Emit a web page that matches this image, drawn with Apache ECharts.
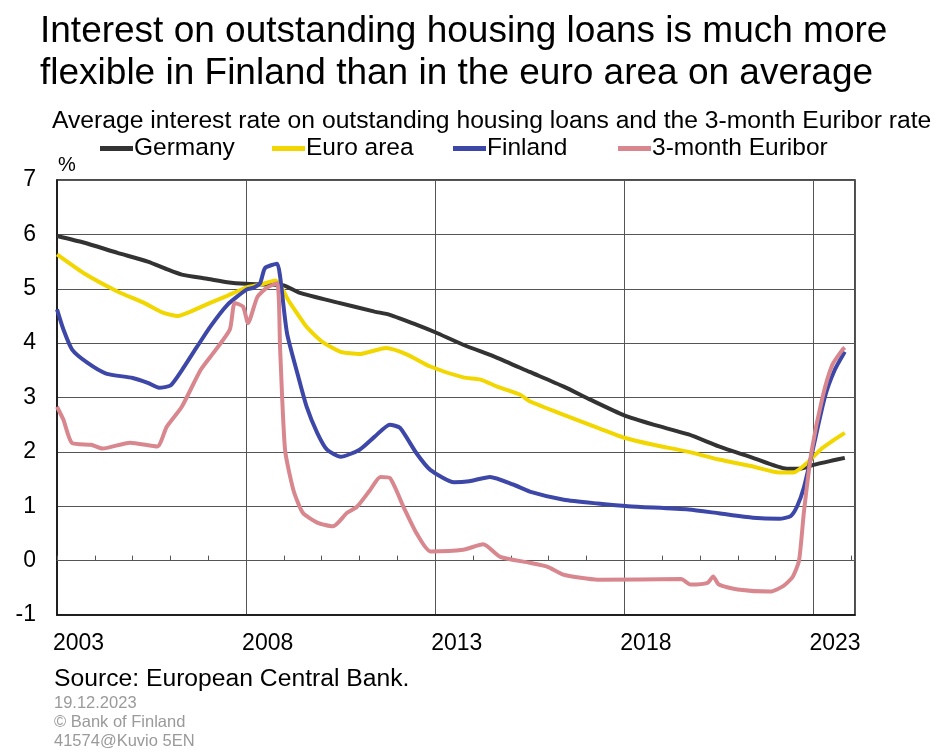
<!DOCTYPE html>
<html>
<head>
<meta charset="utf-8">
<script src="https://cdn.jsdelivr.net/npm/echarts@6/dist/echarts.min.js"></script>
<style>
html,body{margin:0;padding:0;background:#fff;}
#chart{width:935px;height:749px;}
</style>
</head>
<body>
<div id="chart"></div>
<script>
// ---- Data (decimal year, percent) ----
const seriesNames = ['Germany', 'Euro area', 'Finland', '3-month Euribor'];
const xTickYears = [2003, 2008, 2013, 2018, 2023];

const germany = [
  [2003.0,5.97],[2003.7,5.85],[2004.6,5.66],[2005.4,5.5],[2005.9,5.36],[2006.3,5.26],
  [2007.0,5.18],[2007.5,5.12],[2008.0,5.09],[2008.5,5.08],[2009.0,5.06],[2009.4,4.93],
  [2010.4,4.75],[2011.4,4.58],[2011.8,4.52],[2012.5,4.34],[2013.0,4.2],[2013.74,3.97],
  [2014.64,3.73],[2015.5,3.47],[2016.4,3.2],[2017.1,2.96],[2018.0,2.67],[2018.77,2.5],
  [2019.7,2.32],[2020.5,2.1],[2021.4,1.89],[2022.3,1.69],[2022.65,1.69],[2023.0,1.76],
  [2023.5,1.84],[2023.83,1.89]
];
const euroArea = [
  [2003.0,5.63],[2003.7,5.29],[2004.6,4.95],[2005.3,4.74],[2005.8,4.56],[2006.2,4.5],
  [2006.5,4.57],[2007.05,4.74],[2007.5,4.87],[2008.0,5.02],[2008.4,5.08],[2008.77,5.15],
  [2009.16,4.74],[2009.6,4.3],[2010.0,4.03],[2010.5,3.84],[2011.0,3.8],[2011.7,3.91],
  [2012.26,3.79],[2012.87,3.57],[2013.74,3.37],[2014.2,3.33],[2014.64,3.2],[2015.25,3.05],
  [2015.5,2.93],[2016.4,2.68],[2017.3,2.44],[2018.0,2.26],[2018.77,2.13],[2019.7,2.0],
  [2020.5,1.86],[2021.4,1.73],[2022.1,1.62],[2022.47,1.62],[2022.84,1.8],[2023.2,2.05],
  [2023.5,2.2],[2023.83,2.35]
];
const finland = [
  [2003.0,4.62],[2003.17,4.25],[2003.4,3.88],[2003.8,3.64],[2004.3,3.44],[2005.0,3.36],
  [2005.4,3.27],[2005.7,3.18],[2006.0,3.22],[2006.3,3.5],[2006.7,3.93],[2007.05,4.3],
  [2007.5,4.7],[2008.0,4.98],[2008.2,5.02],[2008.37,5.1],[2008.5,5.38],[2008.82,5.46],
  [2008.9,5.22],[2009.08,4.19],[2009.35,3.46],[2009.6,2.83],[2009.88,2.35],[2010.14,2.04],
  [2010.5,1.91],[2011.0,2.04],[2011.4,2.28],[2011.8,2.5],[2012.07,2.44],[2012.5,1.98],
  [2012.87,1.67],[2013.5,1.44],[2013.9,1.46],[2014.45,1.54],[2015.06,1.4],[2015.5,1.27],
  [2016.4,1.12],[2017.3,1.05],[2018.1,1.0],[2019.7,0.94],[2020.5,0.87],[2021.4,0.79],
  [2022.1,0.77],[2022.4,0.82],[2022.57,1.0],[2022.75,1.35],[2022.97,2.0],[2023.3,3.0],
  [2023.56,3.5],[2023.83,3.84]
];
const euribor = [
  [2003.0,2.83],[2003.17,2.59],[2003.4,2.16],[2003.9,2.13],[2004.2,2.06],[2004.93,2.17],
  [2005.65,2.1],[2005.9,2.46],[2006.3,2.83],[2006.8,3.51],[2007.2,3.88],[2007.57,4.25],
  [2007.7,4.74],[2007.92,4.67],[2008.05,4.37],[2008.3,4.85],[2008.55,5.02],[2008.82,5.1],
  [2008.9,3.88],[2009.03,2.04],[2009.25,1.3],[2009.5,0.88],[2009.88,0.7],[2010.3,0.63],
  [2010.67,0.88],[2010.93,0.99],[2011.28,1.3],[2011.55,1.54],[2011.8,1.52],[2012.16,0.99],
  [2012.5,0.51],[2012.87,0.17],[2013.74,0.2],[2014.27,0.3],[2014.72,0.07],[2015.5,-0.04],
  [2015.96,-0.11],[2016.4,-0.26],[2017.3,-0.35],[2019.5,-0.34],[2019.75,-0.44],[2020.2,-0.41],
  [2020.35,-0.29],[2020.5,-0.44],[2021.0,-0.53],[2021.86,-0.57],[2022.2,-0.47],[2022.45,-0.3],
  [2022.62,0.0],[2022.75,0.9],[2022.95,2.0],[2023.24,3.0],[2023.5,3.6],[2023.77,3.88],
  [2023.83,3.92]
];
const seriesData = [germany, euroArea, finland, euribor];
const seriesColors = ['#333333', '#f2d600', '#3d47a8', '#d9878e'];
const legendLefts = [100, 272, 453, 618];

const FONT = '"Liberation Sans", Arial, sans-serif';
const chart = echarts.init(document.getElementById('chart'), null, {renderer: 'canvas'});

chart.setOption({
  animation: false,
  backgroundColor: '#ffffff',
  textStyle: {fontFamily: FONT},
  title: [
    {
      text: 'Interest on outstanding housing loans is much more\nflexible in Finland than in the euro area on average',
      left: 35, top: 6,
      textStyle: {fontFamily: FONT, fontSize: 37, fontWeight: 'normal', color: '#000', lineHeight: 42}
    },
    {
      text: 'Average interest rate on outstanding housing loans and the 3-month Euribor rate',
      left: 47, top: 102,
      textStyle: {fontFamily: FONT, fontSize: 24.7, fontWeight: 'normal', color: '#000', lineHeight: 28}
    }
  ],
  legend: seriesNames.map((name, i) => ({
    top: 136, left: legendLefts[i], padding: 0,
    icon: 'rect', itemWidth: 33, itemHeight: 5,
    textStyle: {fontFamily: FONT, fontSize: 24.5, color: '#000', padding: [0, 0, 0, -4]},
    data: [name]
  })),
  grid: {left: 57, right: 80, top: 180, bottom: 134, show: true, borderColor: '#111', borderWidth: 1.5, containLabel: false},
  xAxis: [
    {
      type: 'value', min: 2003, max: 2024.1, interval: 5,
      axisLine: {show: true, onZero: false, lineStyle: {color: '#111', width: 1.5}},
      axisTick: {show: false},
      splitLine: {show: true, lineStyle: {color: '#555', width: 1}},
      axisLabel: {
        show: true, align: 'left', margin: 17, color: '#000', fontSize: 23, fontFamily: FONT,
        padding: [0, 0, 0, -4],
        formatter: v => (xTickYears.indexOf(Math.round(v * 10) / 10) >= 0 ? String(v) : '')
      }
    },
    {
      type: 'value', min: 2003, max: 2024.1, interval: 1, position: 'top',
      axisLine: {show: true, onZero: true, lineStyle: {color: '#555', width: 1}},
      axisTick: {show: true, inside: false, length: 5, lineStyle: {color: '#555', width: 1}},
      splitLine: {show: false},
      axisLabel: {show: false}
    }
  ],
  yAxis: {
    type: 'value', min: -1, max: 7, interval: 1,
    axisLine: {show: true, lineStyle: {color: '#111', width: 1.5}},
    axisTick: {show: false},
    splitLine: {show: true, lineStyle: {color: '#555', width: 1}},
    axisLabel: {color: '#000', fontSize: 23, margin: 21, fontFamily: FONT}
  },
  graphic: [
    {type: 'text', left: 58, top: 155, style: {text: '%', font: '20px ' + FONT, fill: '#000'}},
    {type: 'text', left: 54, top: 667, style: {text: 'Source: European Central Bank.', font: '24.7px ' + FONT, fill: '#000'}},
    {type: 'text', left: 54, top: 695, style: {text: '19.12.2023', font: '16.5px ' + FONT, fill: '#9a9a9a'}},
    {type: 'text', left: 54, top: 714, style: {text: '\u00A9 Bank of Finland', font: '16.5px ' + FONT, fill: '#9a9a9a'}},
    {type: 'text', left: 54, top: 733, style: {text: '41574@Kuvio 5EN', font: '16.5px ' + FONT, fill: '#9a9a9a'}}
  ],
  series: seriesNames.map((name, i) => ({
    name: name,
    type: 'line',
    xAxisIndex: 0,
    yAxisIndex: 0,
    data: seriesData[i],
    showSymbol: false,
    symbol: 'none',
    smooth: 0.2,
    color: seriesColors[i],
    lineStyle: {width: 4, color: seriesColors[i]},
    z: 2 + i
  }))
});
</script>
</body>
</html>
